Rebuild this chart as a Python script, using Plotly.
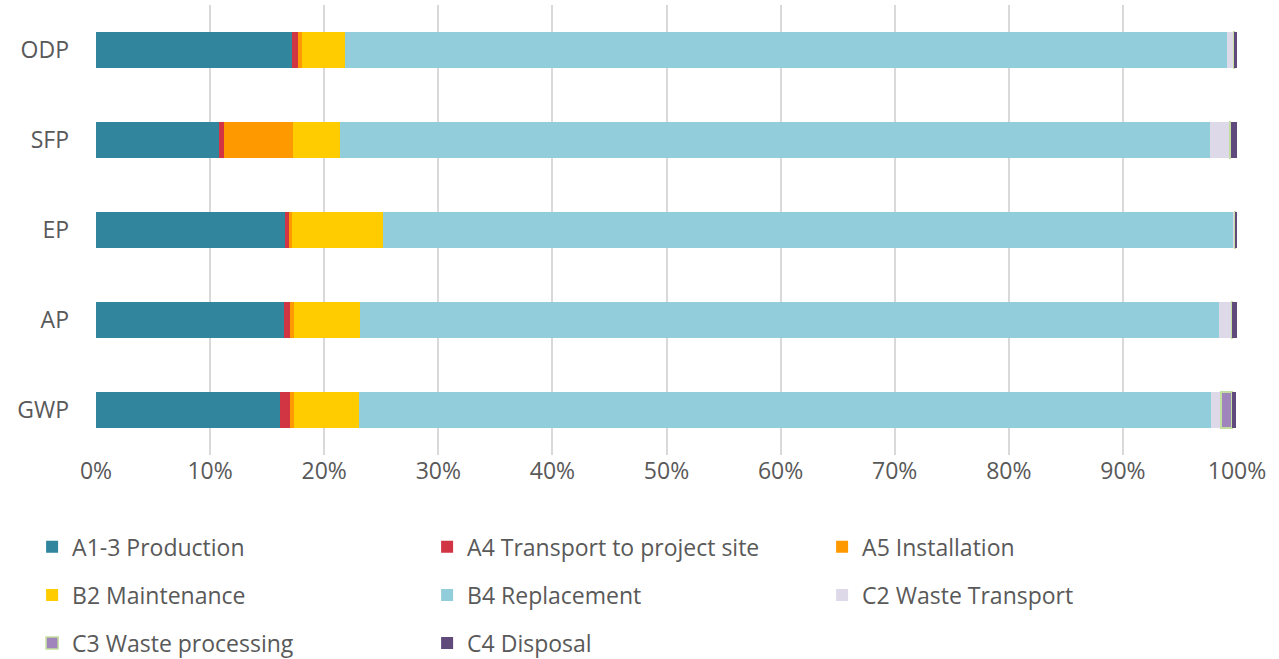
import plotly.graph_objects as go

categories = ["GWP", "AP", "EP", "SFP", "ODP"]

series_names = [
    "A1-3 Production", "A4 Transport to project site", "A5 Installation",
    "B2 Maintenance", "B4 Replacement", "C2 Waste Transport",
    "C3 Waste processing", "C4 Disposal",
]

# shares (%) per category, order: GWP, AP, EP, SFP, ODP
a1_3 = [16.1, 16.5, 16.6, 10.8, 17.15]
a4 = [0.9, 0.5, 0.3, 0.44, 0.55]
a5 = [0.38, 0.32, 0.32, 6.05, 0.38]
b2 = [5.7, 5.84, 7.89, 4.09, 3.77]
b4 = [74.65, 75.3, 74.6, 76.27, 77.3]
c2 = [0.88, 1.08, 0.05, 1.69, 0.53]
c3 = [0.96, 0.06, 0.1, 0.09, 0.06]
c4 = [0.38, 0.41, 0.17, 0.59, 0.26]

values = [a1_3, a4, a5, b2, b4, c2, c3, c4]
colors = ["#31859C", "#D13443", "#FF9900", "#FFCC00", "#92CDDC",
          "#DDD9E8", "#A084BC", "#604A7B"]
legend_ids = ["legend", "legend", "legend", "legend2", "legend2", "legend2",
              "legend3", "legend3"]

FONT = "Open Sans"
GREY = "#595959"

fig = go.Figure()
for name, vals, col, lg in zip(series_names, values, colors, legend_ids):
    line = dict(width=0)
    if name.startswith("C3"):
        line = dict(width=1.5, color="#C3DE9E")
    fig.add_trace(go.Bar(
        y=categories, x=[v / 100 for v in vals], name=name, orientation="h",
        marker=dict(color=col, line=line), legend=lg,
    ))

leg_common = dict(orientation="h", entrywidth=350, xanchor="left", yanchor="middle",
                  font=dict(family=FONT, size=23, color=GREY),
                  bgcolor="rgba(0,0,0,0)", traceorder="normal")

fig.update_layout(
    width=1279, height=659,
    margin=dict(l=96, r=42, t=5, b=204, autoexpand=False),
    barmode="stack", bargap=0.6,
    plot_bgcolor="white", paper_bgcolor="white",
    font=dict(family=FONT, size=23, color=GREY),
    xaxis=dict(range=[0, 1], tickformat=".0%", dtick=0.1, showgrid=True,
               gridcolor="#D9D9D9", gridwidth=1.5, zeroline=False, automargin=False,
               tickfont=dict(family=FONT, size=23, color=GREY)),
    yaxis=dict(categoryorder="array", categoryarray=categories, showgrid=False,
               automargin=False, ticklabelstandoff=26,
               tickfont=dict(family=FONT, size=23, color=GREY)),
    legend=dict(x=-0.056, y=-0.204, **leg_common),
    legend2=dict(x=-0.056, y=-0.311, **leg_common),
    legend3=dict(x=-0.056, y=-0.418, **leg_common),
    showlegend=True,
)

fig.write_html("out.html", config={"displayModeBar": False},
               post_script="document.body.style.margin='0';")
